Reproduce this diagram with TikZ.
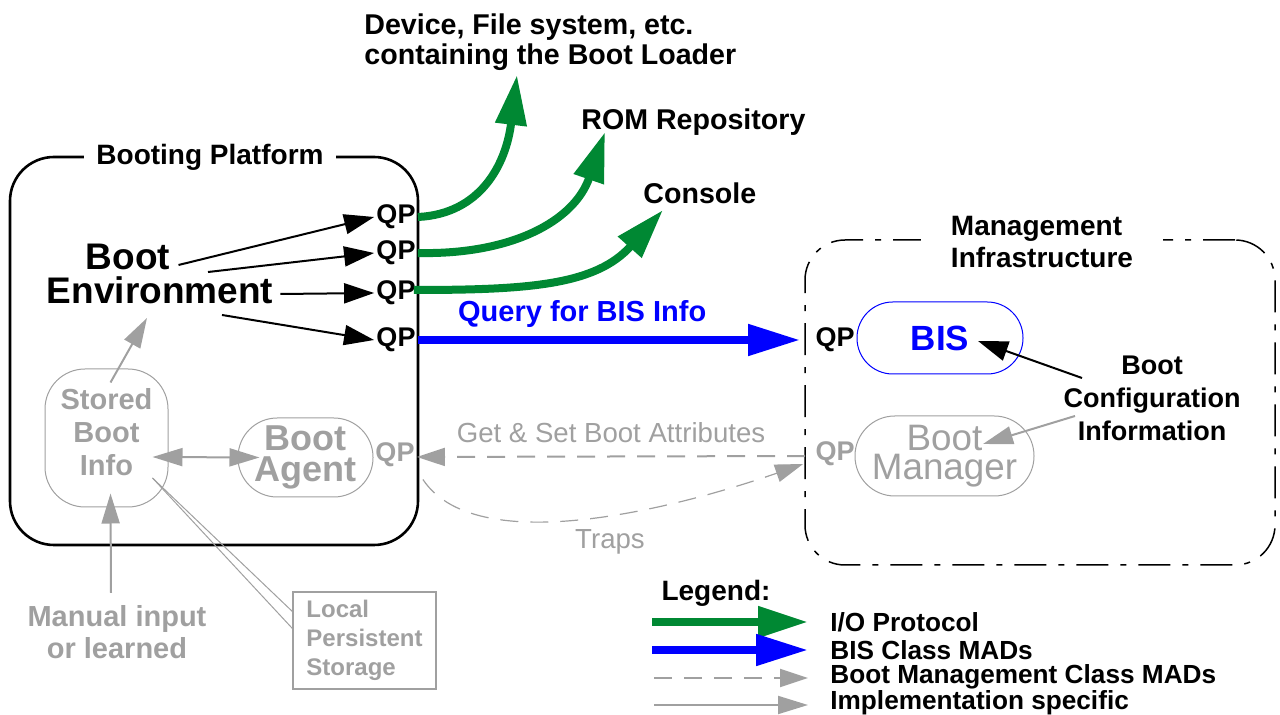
\documentclass[tikz,border=0pt]{standalone}
\usepackage{fontspec}
\setmainfont{Liberation Sans}
\usetikzlibrary{arrows.meta, calc}
\definecolor{ioGreen}{RGB}{0,136,51}
\definecolor{bisBlue}{RGB}{0,0,255}
\definecolor{mgmtGray}{RGB}{160,160,160}
\tikzset{
    lbl/.style={font=\fontsize{14.3}{15}\selectfont\bfseries, inner sep=1pt},
    qp/.style={font=\fontsize{13.5}{15}\selectfont\bfseries, inner sep=1pt},
    qpgray/.style={qp, text=mgmtGray},
    biglbl/.style={font=\fontsize{18.5}{16.5}\selectfont\bfseries, inner sep=1pt},
    platform/.style={draw, line width=1.3pt, rounded corners=22pt},
    infra/.style={draw, line width=0.75pt, rounded corners=20pt,
        dash pattern=on 16pt off 6pt on 3pt off 6pt},
    framelbl/.style={lbl, fill=white, align=left},
    pillbis/.style={draw=bisBlue, line width=0.5pt, text=bisBlue,
        font=\fontsize{17.5}{18}\selectfont\bfseries},
    pillgray/.style={draw=mgmtGray, line width=0.5pt, text=mgmtGray},
    graylbl/.style={lbl, text=mgmtGray, align=center},
    % Arrow styles:
    %   envarr -> from the boot environment (black)
    %   io     -> I/O protocol (green)
    %   bisarr -> BIS class MADs (blue)
    %   mgmt   -> boot management class MADs (grey, dashed)
    %   impl   -> implementation specific (grey, solid)
    envarr/.style={-{Triangle[length=15pt,width=10pt]}, line width=1pt},
    io/.style={-{Triangle[length=25pt,width=15pt]}, line width=4pt,
        draw=ioGreen, color=ioGreen},
    bisarr/.style={-{Triangle[length=26pt,width=15pt]}, line width=4pt,
        draw=bisBlue, color=bisBlue},
    mgmt/.style={-{Triangle[length=14pt,width=9pt]}, line width=1pt,
        draw=mgmtGray, color=mgmtGray, dash pattern=on 9pt off 6pt},
    impl/.style={-{Triangle[length=15pt,width=9pt]}, line width=1pt,
        draw=mgmtGray, color=mgmtGray},
    leglbl/.style={font=\fontsize{13.1}{14}\selectfont\bfseries,
        inner sep=0pt, anchor=west},
}

\begin{document}
\begin{tikzpicture}[x=0.5pt, y=-0.5pt]
\useasboundingbox (0,0) rectangle (1280,715);

% --- frames ---------------------------------------------------
\node[platform, minimum width=204pt, minimum height=194pt] (bp) at (214,351) {};
\node[infra, minimum width=235pt, minimum height=162.5pt] (mi) at (1040,402.5) {};
\node[framelbl, inner xsep=6pt, font=\fontsize{14}{15}\selectfont\bfseries]
    (bpLbl) at (210,157) {Booting Platform};
\node[framelbl, inner xsep=15pt, inner ysep=1pt,
      font=\fontsize{14}{16}\selectfont\bfseries] (miLbl) at (1042,242)
    {Management\\Infrastructure};

% --- targets of the I/O protocols ------------------------------
\node[lbl, anchor=west, align=left, font=\fontsize{14.3}{15}\selectfont\bfseries]
    (dev) at (362,42) {Device, File system, etc.\\containing the Boot Loader};
\node[lbl, anchor=west] (rom) at (579,122) {ROM Repository};
\node[lbl, anchor=west] (con) at (641,193) {Console};
\coordinate (devIn) at (517,75);
\coordinate (romIn) at (605,132);
\coordinate (conIn) at (663,210);

% --- boot environment and its QPs -------------------------------
\node[biglbl] (envA) at (128,257) {Boot};
\node[biglbl] (envB) at (160,290) {Environment};
\node[qp] (qpA) at (396,217) {QP};
\node[qp] (qpB) at (396,253) {QP};
\node[qp] (qpC) at (396,293) {QP};
\node[qp] (qpD) at (396,340) {QP};

\draw[envarr] ($(envA.east)+(6,8)$) -- (qpA.west);
\draw[envarr] ($(envB.north)+(48,-2)$) -- (qpB.west);
\draw[envarr] ($(envB.east)+(5,4)$) -- (qpC.west);
\draw[envarr] ($(envB.south)+(62,9)$) -- (qpD.west);

\draw[io] (qpA.east) .. controls (480,214) and (506,165) .. (devIn);
\draw[io] (qpB.east) .. controls (510,255) and (574,222) .. (romIn);
\draw[io] ($(qpC.east)+(-4,-3)$) .. controls (530,290) and (596,285) .. (conIn);

% --- management infrastructure -----------------------------------
\node[qp] (qpBis) at (835,340) {QP};
\node[pillbis, minimum width=83pt, minimum height=36pt, rounded corners=17.9pt]
    (bis) at (940,338) {BIS};
\node[qpgray] (qpBm) at (835,454) {QP};
\node[pillgray, minimum width=89.5pt, minimum height=40pt, rounded corners=19.9pt,
      align=center, inner sep=0pt, font=\fontsize{18.4}{14.6}\selectfont]
    (bm) at (944.5,456) {Boot\\Manager};
\node[lbl, align=center, font=\fontsize{13.5}{16.5}\selectfont\bfseries]
    (bci) at (1152,398.5) {Boot\\Configuration\\Information};

\draw[envarr] ($(bci.center)+(-70,-20.5)$) -- ($(bis.center)+(38,3)$);
\draw[impl] ($(bci.center)+(-77,17.5)$) -- ($(bm.center)+(38.5,-12)$);

\draw[bisarr] (qpD.east) --
    node[pos=0.43, above=1pt, font=\fontsize{14.5}{15}\selectfont\bfseries]
    {Query for BIS Info} ($(qpBis.west)+(-13,0)$);

% --- stored boot info, boot agent ------------------------------
\node[pillgray, minimum width=61.5pt, minimum height=69pt, rounded corners=20pt,
      align=center, font=\fontsize{14.5}{16.5}\selectfont\bfseries]
    (sbi) at (106.5,438) {Stored\\Boot\\Info\\[-10.5pt]};
\node[pillgray, minimum width=67.5pt, minimum height=39.5pt, rounded corners=19.6pt,
      align=center, inner sep=0pt, font=\fontsize{18}{15.5}\selectfont\bfseries]
    (agent) at (305.5,457.5) {Boot\\Agent};
\node[qpgray] (qpAg) at (395,455) {QP};

\draw[impl] ($(sbi.north)+(4,14)$) -- ($(envB.south)+(-13,12)$);
\draw[impl, {Triangle[length=15pt,width=9pt]}-{Triangle[length=15pt,width=9pt]}]
    ($(sbi.east)+(-16,19)$) -- ($(agent.west)+(22,0)$);

\node[graylbl, font=\fontsize{14.5}{16}\selectfont\bfseries]
    (manual) at (117,632) {Manual input\\or learned};
\draw[impl] ($(manual.north)+(-6,-10)$) -- ($(sbi.south)+(4,-14)$);

\node[draw=mgmtGray, line width=0.6pt, text=mgmtGray, align=left,
      minimum width=71.5pt, minimum height=48.5pt,
      font=\fontsize{12}{14.5}\selectfont\bfseries]
    (lps) at (364.5,640.5) {Local\\Persistent\\Storage};
\draw[draw=mgmtGray, line width=0.5pt] ($(sbi.east)+(-16,40)$) -- ($(lps.west)+(0,-29)$);
\draw[draw=mgmtGray, line width=0.5pt] ($(sbi.east)+(-16,40)$) -- ($(lps.west)+(0,-12)$);

% --- boot management MADs ---------------------------------------
\draw[mgmt] ($(qpBm.west)+(-8,2)$) --
    node[above=3pt, text=mgmtGray, font=\fontsize{13.8}{15}\selectfont]
    {Get \& Set Boot Attributes} ($(qpAg.east)+(0,2)$);
\draw[mgmt, line width=0.6pt] ($(qpAg.south east)+(6,10)$)
    .. controls (480,565) and (700,500) .. ($(qpBm.west)+(-10,10)$);
\node[text=mgmtGray, font=\fontsize{13.8}{15}\selectfont] (traps) at (610,542) {Traps};

% --- legend ----------------------------------------------------
\node[lbl, font=\fontsize{14}{15}\selectfont\bfseries] (leg) at (716,593) {Legend:};
\node[leglbl] (lgIo) at (830,622) {I/O Protocol};
\node[leglbl] (lgBis) at (830,650) {BIS Class MADs};
\node[leglbl] (lgMgmt) at (830,677) {Boot Management Class MADs};
\node[leglbl] (lgImpl) at (830,703) {Implementation specific};
\draw[io] ($(lgIo.west)+(-178,0)$) -- ($(lgIo.west)+(-22,0)$);
\draw[bisarr] ($(lgBis.west)+(-178,0)$) -- ($(lgBis.west)+(-22,0)$);
\draw[mgmt] ($(lgMgmt.west)+(-176,1)$) -- ($(lgMgmt.west)+(-22,1)$);
\draw[impl] ($(lgImpl.west)+(-176,2)$) -- ($(lgImpl.west)+(-22,2)$);

\end{tikzpicture}
\end{document}
